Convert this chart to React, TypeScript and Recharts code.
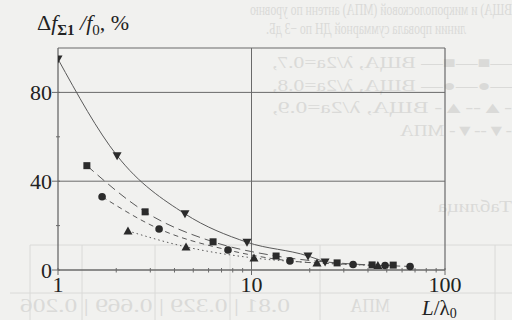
import React from "react";
import {
  ComposedChart,
  Line,
  XAxis,
  YAxis,
  ReferenceLine,
} from "recharts";

// Δf/f0 vs L/λ0
const sqX = [1.41, 2.82, 6.33, 13.4, 27.7, 42, 54];
const sqY = [47, 26.2, 12.7, 6.3, 3.2, 2.3, 2.2];
const ciX = [1.69, 3.33, 7.56, 15.8, 33.5, 49, 66];
const ciY = [33, 18.5, 9, 4.1, 2.5, 2.0, 1.6];
const upX = [2.3, 4.59, 10.3, 21.8, 45];
const upY = [17.6, 10.4, 5.4, 3.2, 2.0];
const dnX = [1, 2.02, 4.53, 9.48, 19.6, 24];
const dnY = [95, 51.5, 25.3, 12.5, 6.3, 3.6];

const xTicks = [1, 2, 3, 4, 5, 6, 7, 8, 9, 10, 20, 30, 40, 50, 60, 70, 80, 90, 100];
const xLabels = [1, 10, 100];
const yTicks = [0, 20, 40, 60, 80];
const yLabels = [0, 40, 80];

const zip = (xs: number[], ys: number[]) => xs.map((x, i) => ({ x, y: ys[i] }));
const squares = zip(sqX, sqY);
const circles = zip(ciX, ciY);
const upTris = zip(upX, upY);
const downTris = zip(dnX, dnY);

const INK = "#2b2b2b";
const LINE = "#5a5a5a";
const GRID = "#6a6a6a";
const GHOST = "#dadad8";
const FONT = "'Liberation Serif', 'DejaVu Serif', serif";

const Square = (p: any) => (
  <rect key={`s${p.index}`} x={p.cx - 3.5} y={p.cy - 3.5} width={7} height={7} fill={INK} />
);
const Dot = (p: any) => <circle key={`c${p.index}`} cx={p.cx} cy={p.cy} r={3.8} fill={INK} />;
const TriUp = (p: any) => (
  <polygon
    key={`u${p.index}`}
    points={`${p.cx},${p.cy - 4.5} ${p.cx - 4.5},${p.cy + 3.5} ${p.cx + 4.5},${p.cy + 3.5}`}
    fill={INK}
  />
);
const TriDown = (p: any) => (
  <polygon
    key={`d${p.index}`}
    points={`${p.cx},${p.cy + 4.5} ${p.cx - 4.5},${p.cy - 3.5} ${p.cx + 4.5},${p.cy - 3.5}`}
    fill={INK}
  />
);

const XTick = ({ x, y, payload }: any) => {
  const major = xLabels.includes(payload.value);
  return (
    <g>
      <line x1={x} x2={x} y1={y - 2} y2={y + (major ? 5 : 2.5)} stroke={GRID} strokeWidth={1} />
      {major && (
        <text x={x} y={y + 22} textAnchor="middle" fontSize={22} fontFamily={FONT} fill="#222">
          {payload.value}
        </text>
      )}
    </g>
  );
};

const YTick = ({ x, y, payload }: any) => {
  const major = yLabels.includes(payload.value);
  return (
    <g>
      <line x1={x - (major ? 6 : 2)} x2={x + 2} y1={y} y2={y} stroke={GRID} strokeWidth={1} />
      {major && (
        <text x={x - 6} y={y} dy="0.35em" textAnchor="end" fontSize={22} fontFamily={FONT} fill="#222">
          {payload.value}
        </text>
      )}
    </g>
  );
};

// faint bleed-through from the other side of the page (mirrored)
const Mirror = ({ x, y, w, size = 16, children }: any) => (
  <text
    transform={`translate(${2 * x + w},0) scale(-1,1)`}
    x={x}
    y={y}
    fontSize={size}
    fontFamily={FONT}
    fill={GHOST}
    textLength={w}
    lengthAdjust="spacingAndGlyphs"
  >
    {children}
  </text>
);

const Ghost = () => (
  <svg width={512} height={320} style={{ position: "absolute", left: 0, top: 0 }}>
    <Mirror x={250} y={15} w={262}>ВЩА) и микрополосковой (МПА) антенн по уровню</Mirror>
    <Mirror x={266} y={34} w={200}>линии провала суммарной ДН по −3 дБ.</Mirror>
    <Mirror x={272} y={68} w={240}>—■—■— ВЩА, λ/2a=0.7,</Mirror>
    <Mirror x={272} y={91} w={240}>—●—●— ВЩА, λ/2a=0.8,</Mirror>
    <Mirror x={272} y={113} w={240}>-▲--▲- ВЩА, λ/2a=0.9,</Mirror>
    <Mirror x={400} y={136} w={112}>-▼--▼- МПА</Mirror>
    <Mirror x={438} y={212} w={74}>Таблица</Mirror>
    <line x1={30} x2={512} y1={245} y2={245} stroke={GHOST} />
    <line x1={10} x2={512} y1={293} y2={293} stroke={GHOST} />
    {[30, 82, 155, 230, 320, 495].map((vx) => (
      <line key={vx} x1={vx} x2={vx} y1={245} y2={320} stroke={GHOST} />
    ))}
    <Mirror x={20} y={312} w={270} size={18}>0.81 | 0.329 | 0.669 | 0.206</Mirror>
    <Mirror x={350} y={312} w={40} size={18}>МПА</Mirror>
  </svg>
);

const Labels = () => (
  <svg width={512} height={320} style={{ position: "absolute", left: 0, top: 0 }}>
    <text x={37} y={30} fontSize={22} fontFamily={FONT} fill="#222">
      <tspan>Δ</tspan>
      <tspan fontStyle="italic">f</tspan>
      <tspan fontSize={15} dy={5} fontWeight="bold">Σ1</tspan>
      <tspan dy={-5} fontStyle="italic"> /f</tspan>
      <tspan fontSize={15} dy={5}>0</tspan>
      <tspan dy={-5}>, %</tspan>
    </text>
    <text x={422} y={315} fontSize={21} fontFamily={FONT} fill="#222">
      <tspan fontStyle="italic">L</tspan>
      <tspan>/λ</tspan>
      <tspan fontSize={14} dy={3}>0</tspan>
    </text>
  </svg>
);

export default function App() {
  return (
    <div
      style={{
        position: "absolute",
        left: 0,
        top: 0,
        width: 512,
        height: 320,
        background: "#f1f1ef",
        overflow: "hidden",
      }}
    >
      <Ghost />
      <div style={{ position: "absolute", left: 0, top: 0 }}>
        <ComposedChart width={512} height={320} margin={{ top: 48, right: 67, bottom: 20, left: 18 }}>
          <XAxis
            dataKey="x"
            type="number"
            scale="log"
            domain={[1, 100]}
            allowDataOverflow
            ticks={xTicks}
            interval={0}
            tick={<XTick />}
            tickLine={false}
            tickSize={0}
            tickMargin={0}
            height={30}
            axisLine={{ stroke: GRID, strokeWidth: 1.3 }}
          />
          <YAxis
            type="number"
            domain={[0, 100]}
            ticks={yTicks}
            interval={0}
            tick={<YTick />}
            tickLine={false}
            tickSize={0}
            tickMargin={0}
            width={40}
            axisLine={{ stroke: GRID, strokeWidth: 1.3 }}
          />
          <ReferenceLine y={40} stroke={GRID} strokeWidth={1} />
          <ReferenceLine y={80} stroke={GRID} strokeWidth={1} />
          <ReferenceLine y={100} stroke={GRID} strokeWidth={1.2} />
          <ReferenceLine x={10} stroke={GRID} strokeWidth={1} />
          <ReferenceLine x={100} stroke={GRID} strokeWidth={1.2} />
          <Line
            data={downTris}
            dataKey="y"
            type="monotone"
            stroke={LINE}
            strokeWidth={1}
            dot={TriDown}
            activeDot={false}
            isAnimationActive={false}
          />
          <Line
            data={squares}
            dataKey="y"
            type="monotone"
            stroke={LINE}
            strokeWidth={1}
            strokeDasharray="9 5"
            dot={Square}
            activeDot={false}
            isAnimationActive={false}
          />
          <Line
            data={circles}
            dataKey="y"
            type="monotone"
            stroke={LINE}
            strokeWidth={1}
            strokeDasharray="5 4"
            dot={Dot}
            activeDot={false}
            isAnimationActive={false}
          />
          <Line
            data={upTris}
            dataKey="y"
            type="monotone"
            stroke={LINE}
            strokeWidth={1}
            strokeDasharray="1.5 3"
            dot={TriUp}
            activeDot={false}
            isAnimationActive={false}
          />
        </ComposedChart>
      </div>
      <Labels />
    </div>
  );
}
